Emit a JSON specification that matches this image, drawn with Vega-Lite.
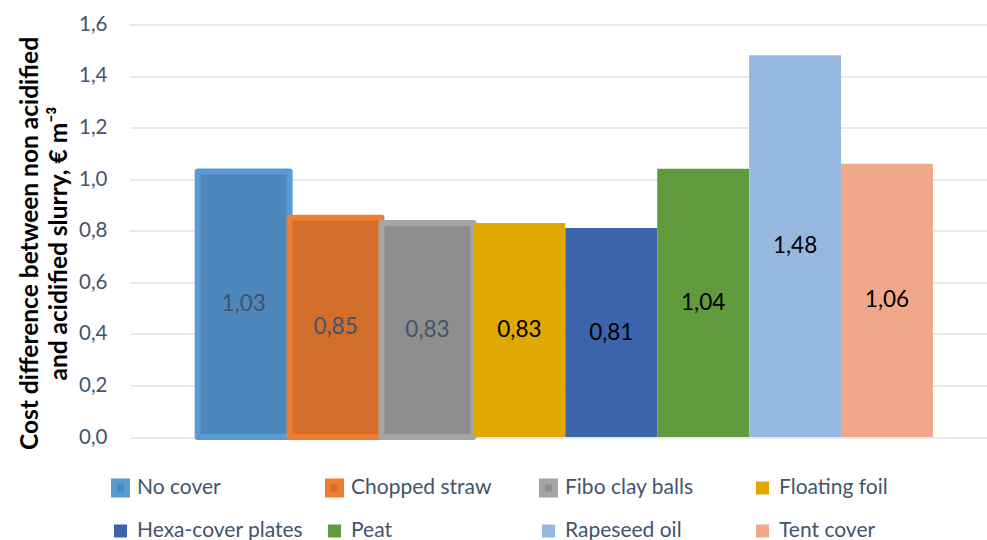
{
  "$schema": "https://vega.github.io/schema/vega-lite/v6.json",
  "width": 857,
  "height": 412.6,
  "autosize": {"type": "none"},
  "padding": {"left": 130, "top": 24.4, "right": 0, "bottom": 103},
  "background": "white",
  "config": {
    "view": {"stroke": null},
    "font": "Lato",
    "locale": {"number": {"decimal": ",", "thousands": ".", "grouping": [3], "currency": ["", "\u00a0€"]}}
  },
  "data": {
    "values": [
      {"Cover": "No cover", "Cost": 1.03},
      {"Cover": "Chopped straw", "Cost": 0.85},
      {"Cover": "Fibo clay balls", "Cost": 0.83},
      {"Cover": "Floating foil", "Cost": 0.83},
      {"Cover": "Hexa-cover plates", "Cost": 0.81},
      {"Cover": "Peat", "Cost": 1.04},
      {"Cover": "Rapeseed oil", "Cost": 1.48},
      {"Cover": "Tent cover", "Cost": 1.06}
    ]
  },
  "layer": [
    {
      "mark": {"type": "bar", "strokeJoin": "round"},
      "encoding": {
        "x": {"field": "Cover", "type": "nominal", "sort": null,
              "scale": {"paddingInner": 0, "paddingOuter": 0.6626, "align": 0.556}, "axis": null},
        "y": {"field": "Cost", "type": "quantitative",
              "scale": {"domain": [0, 1.6], "nice": false},
              "axis": {
                "values": [0, 0.2, 0.4, 0.6, 0.8, 1.0, 1.2, 1.4, 1.6],
                "format": ".1f",
                "labelFont": "Lato", "labelFontSize": 20.5, "labelColor": "#44546a", "labelPadding": 23,
                "ticks": false, "domain": false,
                "grid": true, "gridColor": "#dde1e8", "gridWidth": 1.5,
                "title": ["Cost difference between non acidified", "and acidified slurry, € m⁻³"],
                "titleFont": "Lato", "titleFontSize": 24.5, "titleFontWeight": "bold", "titleColor": "#000000",
                "titleX": -100, "titleY": 218.6, "titleAngle": -90, "titleBaseline": "middle", "titleAlign": "center",
                "titleLineHeight": 29
              }},
        "fill": {"field": "Cover", "type": "nominal",
                 "scale": {"domain": ["No cover", "Chopped straw", "Fibo clay balls", "Floating foil", "Hexa-cover plates", "Peat", "Rapeseed oil", "Tent cover"],
                           "range": ["#4e87bc", "#d26d2a", "#8e8e8e", "#e0a800", "#3b64ad", "#629a3e", "#97b8de", "#f0a78a"]},
                 "legend": {"title": null, "orient": "none", "direction": "horizontal", "columns": 4,
                            "legendX": -20, "legendY": 452.5, "symbolType": "square", "symbolSize": 169,
                            "labelFont": "Lato", "labelFontSize": 21, "labelColor": "#44546a",
                            "gridAlign": "all", "columnPadding": 20, "rowPadding": 21, "labelOffset": 6,
                            "padding": 0, "labelLimit": 300, "clipHeight": 22}},
        "stroke": {"field": "Cover", "type": "nominal",
                   "scale": {"domain": ["No cover", "Chopped straw", "Fibo clay balls", "Floating foil", "Hexa-cover plates", "Peat", "Rapeseed oil", "Tent cover"],
                             "range": ["#5b9bd5", "#ed7d31", "#a5a5a5", "#e0a800", "#3b64ad", "#629a3e", "#97b8de", "#f0a78a"]},
                   "legend": {"title": null, "orient": "none", "direction": "horizontal", "columns": 4,
                            "legendX": -20, "legendY": 452.5, "symbolType": "square", "symbolSize": 169,
                            "labelFont": "Lato", "labelFontSize": 21, "labelColor": "#44546a",
                            "gridAlign": "all", "columnPadding": 20, "rowPadding": 21, "labelOffset": 6,
                            "padding": 0, "labelLimit": 300, "clipHeight": 22}},
        "strokeWidth": {"field": "Cover", "type": "ordinal",
                   "scale": {"type": "ordinal", "domain": ["No cover", "Chopped straw", "Fibo clay balls", "Floating foil", "Hexa-cover plates", "Peat", "Rapeseed oil", "Tent cover"],
                             "range": [6, 6, 6, 0, 0, 0, 0, 0]},
                   "legend": {"title": null, "orient": "none", "direction": "horizontal", "columns": 4,
                            "legendX": -20, "legendY": 452.5, "symbolType": "square", "symbolSize": 169,
                            "labelFont": "Lato", "labelFontSize": 21, "labelColor": "#44546a",
                            "gridAlign": "all", "columnPadding": 20, "rowPadding": 21, "labelOffset": 6,
                            "padding": 0, "labelLimit": 300, "clipHeight": 22}}
      }
    },
    {
      "mark": {"type": "text", "font": "Lato", "fontSize": 22.5, "align": "center", "baseline": "middle"},
      "encoding": {
        "x": {"field": "Cover", "type": "nominal", "sort": null,
              "scale": {"paddingInner": 0, "paddingOuter": 0.6626, "align": 0.556}, "axis": null},
        "y": {"field": "Cost", "type": "quantitative", "scale": {"domain": [0, 3.2], "nice": false}, "axis": null},
        "text": {"field": "Cost", "type": "quantitative", "format": ".2f"},
        "color": {"condition": {"test": "indexof(['No cover','Chopped straw','Fibo clay balls'], datum.Cover) >= 0", "value": "#44546a"}, "value": "#000000"}
      }
    }
  ],
  "resolve": {"scale": {"y": "independent"}}
}
